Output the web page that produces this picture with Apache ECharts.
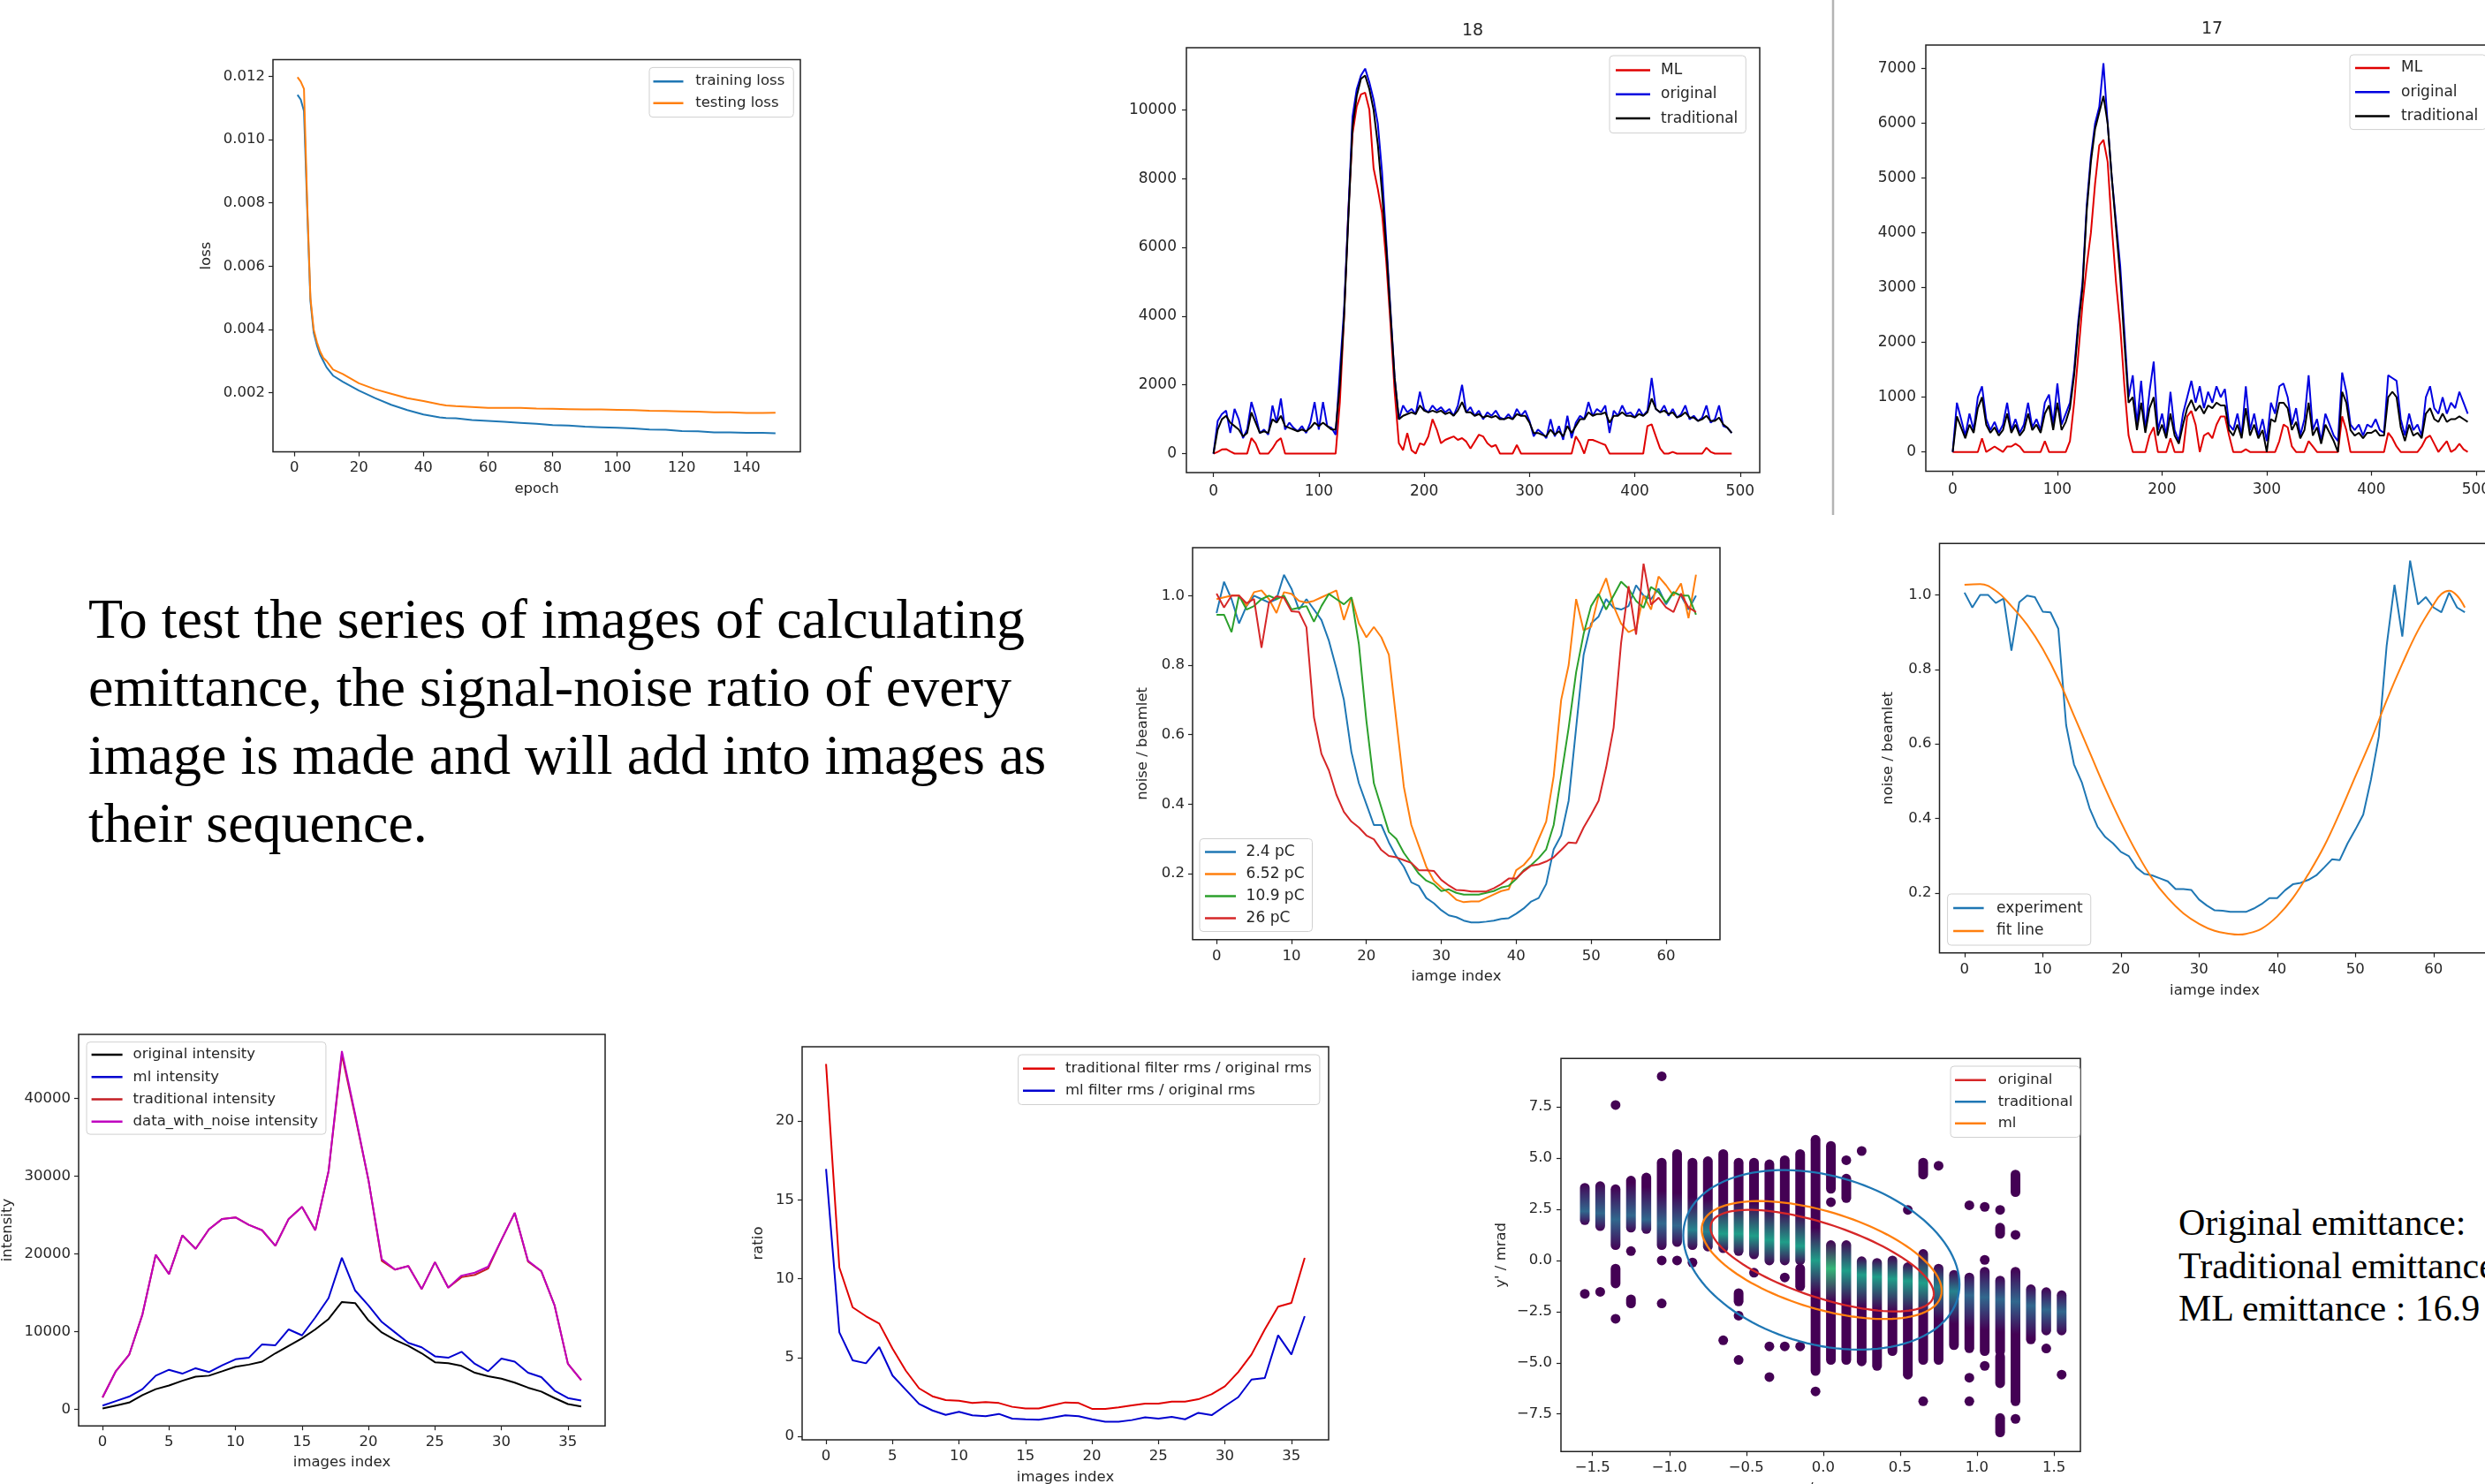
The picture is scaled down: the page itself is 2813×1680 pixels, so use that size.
<!DOCTYPE html>
<html>
<head>
<meta charset="utf-8">
<script src="https://cdn.jsdelivr.net/npm/echarts@6/dist/echarts.min.js"></script>
<style>
html,body{margin:0;padding:0;background:#fff;width:2813px;height:1680px;overflow:hidden;position:relative}
.chart{position:absolute}
.note{position:absolute;font-family:"Liberation Serif","Times New Roman",serif;color:#000;white-space:nowrap}
</style>
</head>
<body>
<div id="loss" class="chart" style="left:180px;top:40px;width:760px;height:540px"></div>
<div id="p18" class="chart" style="left:1250px;top:0px;width:780px;height:590px"></div>
<div id="p17" class="chart" style="left:2060px;top:0px;width:780px;height:590px"></div>
<div id="noise1" class="chart" style="left:1240px;top:590px;width:740px;height:540px"></div>
<div id="noise2" class="chart" style="left:2090px;top:590px;width:760px;height:550px"></div>
<div id="intens" class="chart" style="left:0px;top:1140px;width:720px;height:540px"></div>
<div id="ratio" class="chart" style="left:820px;top:1150px;width:720px;height:540px"></div>
<div id="phase" class="chart" style="left:1640px;top:1160px;width:760px;height:570px"></div>
<div class="note" style="left:100px;top:662px;font-size:64px;line-height:77px">To test the series of images of calculating<br>emittance, the signal-noise ratio of every<br>image is made and will add into images as<br>their sequence.</div>
<div class="note" style="left:2466px;top:1360px;font-size:42px;line-height:48.5px">Original emittance:<br>Traditional emittance<br>ML emittance : 16.9</div>
<script>
// ---- training curve ----
var lossEpochs = [1,2,3,4,5,6,7,8,9,10,12,15,20,25,30,35,40,45,47,50,55,60,65,70,75,80,85,90,95,100,105,110,115,120,125,130,135,140,145,149];
var trainLoss = [0.01141,0.01126,0.0109,0.0078,0.0049,0.0039,0.0035,0.0032,0.0030,0.0028,0.00254,0.00235,0.00207,0.00183,0.00162,0.00145,0.00131,0.00122,0.00120,0.00119,0.00114,0.00111,0.00108,0.00105,0.00102,0.00098,0.00096,0.00093,0.00091,0.00089,0.00087,0.00084,0.00083,0.00079,0.00078,0.00075,0.00075,0.00073,0.00073,0.00072];
var testLoss = [0.01197,0.01183,0.0116,0.0080,0.0050,0.0040,0.0036,0.0033,0.0031,0.0030,0.00273,0.00259,0.00230,0.00211,0.00197,0.00183,0.00174,0.00163,0.00160,0.00158,0.00155,0.00152,0.00152,0.00152,0.00150,0.00149,0.00148,0.00147,0.00147,0.00146,0.00145,0.00143,0.00142,0.00141,0.00140,0.00138,0.00138,0.00136,0.00136,0.00137];

// ---- beam profiles, one value every 4 pixels ----
var profileStep = 4;
var ml18 = [0,50,120,130,60,0,0,0,0,450, 300,0,0,0,150,350,450,0,0,0, 0,0,0,0,0,0,0,0,0,0,
  1500,4000,7000,9300,10100,10450,10500,10000,8300,7700, 7000,5600,3800,1800,300,100,600,100,0,300,
  250,500,1000,700,300,400,450,500,400,450, 350,150,350,550,500,300,200,250,0,0, 0,0,250,0,0,0,0,0,0,0,
  0,0,0,0,0,0,500,300,0,400, 400,350,300,250,0,0,0,0,0,0, 0,0,0,800,850,500,150,0,0,50, 0,0,0,0,0,0,0,170,50,0, 0,0,0,0];
var orig18 = [0,950,1150,1250,600,1300,1000,450,700,1500, 1100,600,700,550,1400,900,1600,700,900,750, 650,800,600,900,1500,700,1500,800,750,550,
  2400,4200,7000,9800,10600,11000,11200,10800,10300,9600, 8200,6200,4200,2200,1000,1400,1200,1300,1150,1800,
  1300,1200,1400,1250,1350,1200,1300,1100,1400,2000, 1200,1350,1100,1250,1000,1200,1100,1250,1050,1000,
  1150,1000,1300,1100,1250,950,500,700,600,450, 1000,500,800,400,1100,450,900,1100,1000,1500,
  1100,1300,1200,1400,600,1250,1100,1400,1150,1200, 1050,1300,1100,1250,2200,1300,1200,1400,1100,1300,
  1050,1150,1400,1000,1100,950,1050,1400,900,1000, 1400,800,750,600];
var trad18 = [0,700,1000,1100,900,800,700,500,600,1200, 900,600,650,600,1000,900,1100,800,750,700, 650,700,650,750,900,800,900,800,700,700,
  2000,4000,6800,9500,10400,10900,11000,10600,10000,9000, 7600,6000,4100,2200,1000,1100,1150,1200,1150,1400,
  1250,1200,1250,1200,1250,1150,1200,1100,1250,1500, 1200,1200,1100,1150,1050,1100,1050,1100,1000,1000,
  1050,1000,1150,1100,1100,900,600,600,550,500, 700,550,650,500,800,600,800,1000,1000,1200,
  1100,1150,1150,1200,900,1100,1100,1200,1100,1100, 1050,1150,1100,1200,1600,1300,1200,1250,1150,1200,
  1050,1100,1200,1050,1050,950,1000,1100,950,950, 1050,850,750,600];
var ml17 = [0,0,0,0,0,0,0,250,0,50, 100,50,0,100,100,150,100,0,0,0, 0,0,200,0,0,0,0,0,200,900,
  1800,2700,3400,4000,4900,5600,5700,5300,4100,3100, 2300,1200,300,0,0,0,0,300,450,0,
  0,0,250,0,0,0,650,750,500,0, 300,350,250,500,650,650,300,0,0,0, 50,0,0,0,0,0,0,0,200,500,
  450,100,0,0,0,200,100,0,0,0, 0,0,0,650,400,0,0,0,0,0, 0,0,0,0,350,250,100,0,0,0, 0,0,100,250,300,150,0,100,200,0, 50,150,50,0];
var orig17 = [0,900,600,300,700,400,1000,1200,600,400, 550,350,500,900,400,600,350,500,900,450, 600,400,900,1050,500,1250,500,700,900,1500,
  2400,3100,4500,5400,6000,6300,7100,6000,5000,4200, 3400,2200,1000,1400,500,1300,400,1100,1650,400,
  700,300,1100,400,200,700,1000,1300,900,1200, 800,1100,900,1200,1000,1150,500,400,700,300,
  1200,400,700,300,600,200,900,700,1200,1250, 1000,500,800,300,600,1400,400,600,200,700,
  500,300,200,1450,1100,500,400,500,300,500, 450,600,400,350,1400,1350,1300,600,300,700,
  400,500,300,1000,1200,800,700,1000,700,900, 800,1100,900,700];
var trad17 = [0,650,450,250,500,350,800,1000,500,350, 450,300,400,700,350,500,300,400,700,400, 500,350,700,850,400,900,400,550,800,1400,
  2300,3000,4400,5300,5900,6200,6500,6000,5000,4100, 3200,2000,900,1000,400,900,350,800,1000,300,
  500,250,700,300,150,500,800,950,750,850, 700,850,800,900,850,850,400,300,500,250,
  800,300,500,250,400,0,600,550,900,900, 800,400,550,250,400,900,300,450,150,500,
  350,200,0,1100,900,400,300,350,250,350, 350,400,300,300,1000,1100,1000,450,200,500,
  300,350,250,700,800,600,550,700,550,600, 600,650,600,550];

// ---- noise / beamlet against image index 0..64 ----
var charge24 = [0.95,1.04,0.99,0.92,0.97,1.0,0.99,0.98,0.99,1.06, 1.02,0.96,0.99,0.96,0.93,0.87,0.79,0.70,0.55,0.46,
  0.40,0.34,0.34,0.29,0.25,0.22,0.175,0.165,0.13,0.115, 0.095,0.08,0.075,0.065,0.06,0.06,0.062,0.065,0.07,0.072,
  0.085,0.10,0.12,0.13,0.17,0.27,0.31,0.41,0.62,0.83, 0.92,0.94,0.99,0.965,0.96,0.97,1.03,1.0,0.99,1.02, 0.975,1.01,1.0,0.96,1.0];
var charge652 = [0.99,0.995,1.0,1.0,0.97,1.01,1.015,0.99,0.95,1.01, 1.005,0.985,0.98,0.985,0.995,1.005,1.015,0.93,0.995,0.92,
  0.88,0.91,0.88,0.83,0.64,0.45,0.34,0.28,0.22,0.18, 0.16,0.145,0.125,0.118,0.12,0.12,0.13,0.14,0.15,0.155,
  0.21,0.225,0.25,0.30,0.35,0.48,0.70,0.80,0.99,0.90, 0.91,1.0,1.05,0.97,0.92,0.895,0.905,1.0,0.96,1.055, 1.03,1.0,1.035,0.935,1.06];
var charge109 = [0.945,0.945,0.895,1.0,0.96,0.97,0.99,1.0,0.99,1.0, 0.96,0.965,0.97,0.925,0.97,1.005,0.99,0.975,0.995,0.86,
  0.64,0.46,0.39,0.32,0.30,0.26,0.23,0.20,0.18,0.17, 0.15,0.155,0.145,0.14,0.14,0.14,0.145,0.15,0.16,0.165,
  0.185,0.21,0.225,0.245,0.27,0.34,0.48,0.62,0.78,0.89, 0.97,1.005,0.96,1.0,1.04,1.02,0.985,0.965,1.025,1.01, 0.98,1.01,1.0,1.0,0.945];
var charge26 = [1.006,0.966,1.0,1.0,0.978,0.99,0.85,0.98,0.998,0.994, 0.955,0.953,0.909,0.65,0.545,0.497,0.427,0.378,0.35,0.333,
  0.31,0.299,0.268,0.251,0.247,0.239,0.231,0.21,0.21,0.208, 0.182,0.166,0.153,0.152,0.149,0.149,0.149,0.158,0.17,0.186,
  0.186,0.207,0.223,0.227,0.235,0.247,0.268,0.29,0.288,0.333, 0.37,0.41,0.505,0.62,0.864,1.027,0.888,1.092,0.974,0.994, 0.966,0.953,1.006,0.966,0.953];
var fitX = [0,2,4,6,8,10,12,14,16,18,20,22,24,26,28,30,32,34,35,36,38,40,42,44,46,48,50,52,54,56,58,60,61,62,63,64];
var fitY = [1.027,1.029,1.011,0.97,0.92,0.855,0.774,0.676,0.578,0.48,0.39,0.309,0.239,0.186,0.145,0.117,0.098,0.09,0.088,0.09,0.104,0.137,0.186,0.251,0.325,0.415,0.513,0.61,0.717,0.815,0.904,0.974,1.002,1.011,0.998,0.966];

// ---- per image index 0..36 ----
var origIntensity = [115,500,880,1840,2610,3070,3690,4220,4340,4910,5490,5760,6140,7220,8180,9140,10290,11630,13820,13670,11440,9900,8940,8180,7220,6070,5950,5600,4720,4260,3950,3450,2800,2300,1460,690,380];
var mlIntensity = [500,1075,1650,2610,4340,5100,4600,5300,4800,5680,6450,6640,8370,8250,10290,9520,11820,14320,19500,15280,13360,11250,9900,8560,7985,6830,6640,7410,5870,4910,6530,6140,4720,4150,2420,1460,1150];
var tradIntensity = [1536,4914,7025,12208,19886,17390,22380,20650,23150,24490,24680,23720,23030,21040,24490,26030,23030,30630,45600,37700,29480,19100,17970,18430,15470,18930,15660,17000,17300,18100,21800,25260,19000,17770,13360,5874,3762];
var noisyIntensity = [1536,4914,7025,12208,19886,17390,22380,20650,23150,24490,24680,23720,23030,21040,24490,26030,23030,30630,46070,37930,29480,19310,17970,18430,15470,18930,15660,17200,17580,18350,21800,25260,19120,17770,13360,5874,3762];
var tradRatio = [23.62,10.7,8.18,7.62,7.15,5.56,4.16,3.04,2.54,2.30,2.26,2.11,2.17,2.11,1.87,1.77,1.77,1.96,2.15,2.11,1.74,1.74,1.83,1.96,2.07,2.07,2.20,2.20,2.35,2.67,3.17,4.07,5.19,6.78,8.22,8.46,11.32];
var mlRatio = [16.96,6.59,4.82,4.63,5.66,3.85,2.95,2.05,1.64,1.36,1.55,1.33,1.27,1.42,1.12,1.08,1.05,1.18,1.33,1.27,1.08,0.93,0.93,1.03,1.21,1.12,1.23,1.08,1.49,1.34,1.92,2.48,3.60,3.70,6.41,5.19,7.62];

// ---- phase space: columns [x, yLow, yHigh, yDensest, density], single dots [x, y] ----
var phaseBands = [
  [-1.55,1.97,3.55,2.4,0.3],[-1.45,1.68,3.63,2.3,0.3],[-1.35,0.75,3.48,2.0,0.3],[-1.35,-1.12,-0.4,-0.8,0],
  [-1.25,1.6,3.9,2.2,0.3],[-1.25,-2.1,-1.9,-2.0,0],[-1.15,1.54,4.05,2.0,0.3],[-1.05,0.75,4.78,1.8,0.35],
  [-0.95,0.9,5.2,1.7,0.35],[-0.85,0.75,4.78,1.5,0.4],[-0.75,0.68,4.85,1.4,0.45],[-0.65,0.6,5.2,1.3,0.5],
  [-0.55,0.46,4.78,1.3,0.5],[-0.55,-2.0,-1.6,-1.8,0],[-0.45,0.3,4.78,1.2,0.55],[-0.35,0.0,4.7,1.0,0.55],
  [-0.25,0.0,4.9,0.9,0.6],[-0.15,0.0,5.2,0.7,0.55],[-0.15,-1.27,-0.4,-0.8,0],[-0.05,-5.4,5.9,0.0,0.6],
  [0.05,3.5,5.6,4.5,0],[0.05,-4.86,0.75,-0.4,0.65],[0.15,3.05,4.0,3.5,0],[0.15,-4.86,0.75,-0.5,0.6],
  [0.25,-4.93,-0.04,-0.7,0.55],[0.35,-5.15,-0.12,-0.8,0.55],[0.45,-4.43,0.0,-0.9,0.55],[0.55,-5.58,-0.33,-1.0,0.5],
  [0.65,4.2,4.78,4.5,0],[0.65,-4.86,0.32,-1.1,0.5],[0.75,-4.86,-0.4,-1.3,0.45],[0.85,-4.14,-0.7,-1.5,0.4],
  [0.95,-4.29,-0.83,-1.7,0.35],[1.05,-4.43,-0.55,-1.8,0.35],[1.15,1.3,1.6,1.45,0],[1.15,-4.43,-0.98,-1.9,0.3],
  [1.15,-6.0,-4.7,-5.3,0],[1.15,-8.4,-7.7,-8.0,0],[1.25,3.34,4.2,3.8,0],[1.25,-6.88,-0.55,-2.0,0.3],
  [1.35,-3.86,-1.41,-2.2,0.3],[1.45,-3.42,-1.55,-2.4,0.3],[1.55,-3.42,-1.7,-2.5,0.3]
];
var phaseDots = [
  [-1.55,-1.63],[-1.45,-1.53],[-1.35,7.6],[-1.35,-2.85],[-1.25,0.46],[-1.05,0.0],[-1.05,-2.1],[-1.05,9.0],
  [-0.95,0.0],[-0.85,-0.1],[-0.65,-3.9],[-0.55,-2.7],[-0.55,-4.86],[-0.45,-0.6],[-0.35,-4.2],[-0.35,-5.7],
  [-0.25,-0.83],[-0.25,-4.2],[-0.15,-4.2],[-0.05,-6.4],[0.05,2.85],[0.15,4.9],[0.25,5.35],[0.55,2.47],
  [0.65,-6.88],[0.75,4.63],[0.95,2.7],[0.95,-5.73],[0.95,-6.88],[1.05,2.62],[1.05,0.03],[1.05,-5.15],
  [1.15,2.47],[1.25,1.25],[1.25,-7.74],[1.45,-4.3],[1.55,-5.58]
];
// ellipse: [centre x, centre y, x half-width, y at x extreme, y spread]
var ellipseOriginal = [-0.007,-0.01,0.726,-1.62,1.88];
var ellipseTraditional = [-0.012,0.03,0.898,-1.2,4.22];
var ellipseMl = [-0.01,0.02,0.78,-1.5,2.46];

var FONT = 'DejaVu Sans';
var INK = '#262626';

function valueAxis(o) {
  return {
    type: 'value', min: o.min, max: o.max,
    axisLine: {show: false, onZero: false},
    axisTick: {show: true, length: 5, customValues: o.ticks, lineStyle: {color: '#222', width: 1.2}},
    axisLabel: {show: true, customValues: o.ticks, color: INK, fontSize: o.fs || 16.5, fontFamily: FONT, margin: o.margin || 9,
      formatter: o.fmt || function (v) { return String(v); }},
    splitLine: {show: false},
    name: o.name || '', nameLocation: 'middle', nameGap: o.gap || 30, nameRotate: o.rot || 0,
    nameMoveOverlap: false,
    nameTextStyle: {color: INK, fontSize: o.fs || 16.5, fontFamily: FONT}
  };
}
function frame(left, top, width, height) {
  return {left: left, top: top, width: width, height: height, show: true, borderColor: '#222', borderWidth: 1.5,
    backgroundColor: 'transparent', containLabel: false, outerBoundsMode: 'none'};
}
function legendBox(o) {
  var lh = o.fs + 2;
  return {
    orient: 'vertical', left: o.left, top: o.top, data: o.names, icon: 'rect',
    itemWidth: o.iw, itemHeight: 2.5, itemGap: o.row - lh, padding: o.pad,
    backgroundColor: 'rgba(255,255,255,0.85)', borderColor: '#d0d0d0', borderWidth: 1, borderRadius: 4,
    selectedMode: false,
    textStyle: {fontFamily: FONT, fontSize: o.fs, color: INK, lineHeight: lh, padding: [0, 0, 0, o.tgap - 5]}
  };
}
function line(name, data, color, extra) {
  var s = {type: 'line', name: name, data: data, symbol: 'none', showSymbol: false, animation: false,
    lineStyle: {width: 2, color: color}, itemStyle: {color: color}};
  for (var k in extra || {}) s[k] = extra[k];
  return s;
}
function pairs(xs, ys) { return ys.map(function (y, i) { return [xs[i], y]; }); }
function byIndex(ys, step) { return ys.map(function (y, i) { return [i * (step || 1), y]; }); }
function fixed(n) { return function (v) { return v.toFixed(n); }; }
function signed(n) { return function (v) { return (v < 0 ? '\u2212' : '') + Math.abs(v).toFixed(n); }; }
function titleText(x, y, text) {
  return {type: 'text', x: x, y: y, style: {text: text, fill: INK, font: '19px "DejaVu Sans"', align: 'center', verticalAlign: 'middle', textAlign: 'center', textVerticalAlign: 'middle'}};
}

function draw(id, option) {
  var c = echarts.init(document.getElementById(id), null, {renderer: 'canvas'});
  option.animation = false;
  c.setOption(option);
}

draw('loss', {
  grid: frame(129, 27.6, 597, 444),
  xAxis: valueAxis({min: -6.6, max: 156.7, ticks: [0,20,40,60,80,100,120,140], name: 'epoch', gap: 34, margin: 10}),
  yAxis: valueAxis({min: 0.00013, max: 0.01252, ticks: [0.002,0.004,0.006,0.008,0.010,0.012], fmt: fixed(3), name: 'loss', gap: 67, rot: 90}),
  legend: legendBox({left: 555, top: 36.4, names: ['training loss','testing loss'], fs: 16.5, iw: 34, tgap: 13.7, row: 24.7, pad: [6.5,10,6.5,4.5]}),
  series: [
    line('training loss', pairs(lossEpochs, trainLoss), '#1f77b4'),
    line('testing loss', pairs(lossEpochs, testLoss), '#ff7f0e')
  ]
});

var profileTicksX = [0,100,200,300,400,500];
draw('p18', {
  grid: frame(93, 54, 649, 481),
  graphic: [titleText(417, 34.6, '18')],
  xAxis: valueAxis({min: -25.7, max: 518.6, ticks: profileTicksX, fs: 17, margin: 13}),
  yAxis: valueAxis({min: -552, max: 11808, ticks: [0,2000,4000,6000,8000,10000], fs: 17, margin: 11}),
  legend: legendBox({left: 572, top: 63, names: ['ML','original','traditional'], fs: 17, iw: 39, tgap: 12, row: 27.3, pad: [7,9,7,7]}),
  series: [
    line('ML', byIndex(ml18, profileStep), '#e00000'),
    line('original', byIndex(orig18, profileStep), '#0000e0'),
    line('traditional', byIndex(trad18, profileStep), '#000000')
  ]
});

draw('p17', {
  grid: frame(120, 51, 645, 482.5),
  graphic: [
    {type: 'line', shape: {x1: 15, y1: 0, x2: 15, y2: 583}, style: {stroke: '#b4b4b4', lineWidth: 2.5}},
    titleText(444, 33, '17')
  ],
  xAxis: valueAxis({min: -25.7, max: 518.6, ticks: profileTicksX, fs: 17, margin: 13}),
  yAxis: valueAxis({min: -352, max: 7431, ticks: [0,1000,2000,3000,4000,5000,6000,7000], fs: 17, margin: 11}),
  legend: legendBox({left: 600, top: 62, names: ['ML','original','traditional'], fs: 17, iw: 39, tgap: 13, row: 27.3, pad: [5.5,9,5.5,6]}),
  series: [
    line('ML', byIndex(ml17, profileStep), '#e00000'),
    line('original', byIndex(orig17, profileStep), '#0000e0'),
    line('traditional', byIndex(trad17, profileStep), '#000000')
  ]
});

var noiseTicksX = [0,10,20,30,40,50,60];
var noiseTicksY = [0.2,0.4,0.6,0.8,1.0];
draw('noise1', {
  grid: frame(110, 30, 597, 443.8),
  xAxis: valueAxis({min: -3.2, max: 67.2, ticks: noiseTicksX, name: 'iamge index', gap: 33, margin: 10.5}),
  yAxis: valueAxis({min: 0.0101, max: 1.138, ticks: noiseTicksY, fmt: fixed(1), name: 'noise / beamlet', gap: 48, rot: 90}),
  legend: legendBox({left: 118, top: 359.5, names: ['2.4 pC','6.52 pC','10.9 pC','26 pC'], fs: 17, iw: 35, tgap: 11.6, row: 25, pad: [5.5,9,5.5,6]}),
  series: [
    line('2.4 pC', byIndex(charge24), '#1f77b4'),
    line('6.52 pC', byIndex(charge652), '#ff7f0e'),
    line('10.9 pC', byIndex(charge109), '#2ca02c'),
    line('26 pC', byIndex(charge26), '#d62728')
  ]
});

draw('noise2', {
  grid: frame(105.5, 25.2, 623, 463.5),
  xAxis: valueAxis({min: -3.2, max: 67.2, ticks: noiseTicksX, name: 'iamge index', gap: 34.5, margin: 10.5}),
  yAxis: valueAxis({min: 0.039, max: 1.138, ticks: noiseTicksY, fmt: fixed(1), name: 'noise / beamlet', gap: 49, rot: 90}),
  legend: legendBox({left: 114.6, top: 422, names: ['experiment','fit line'], fs: 17, iw: 34.5, tgap: 14.5, row: 25.8, pad: [6.6,9,6.6,6.5]}),
  series: [
    line('experiment', byIndex(charge26), '#1f77b4'),
    line('fit line', pairs(fitX, fitY), '#ff7f0e', {smooth: 0.4})
  ]
});

var imageTicksX = [0,5,10,15,20,25,30,35];
draw('intens', {
  grid: frame(89, 31, 596, 443.2),
  xAxis: valueAxis({min: -1.8, max: 37.8, ticks: imageTicksX, name: 'images index', gap: 33.5, margin: 10}),
  yAxis: valueAxis({min: -2112, max: 48209, ticks: [0,10000,20000,30000,40000], name: 'intensity', gap: 72, rot: 90}),
  legend: legendBox({left: 98, top: 39.7, names: ['original intensity','ml intensity','traditional intensity','data_with_noise intensity'], fs: 16.5, iw: 35, tgap: 12, row: 25.3, pad: [5,9,5,5.6]}),
  series: [
    line('original intensity', byIndex(origIntensity), '#000000'),
    line('ml intensity', byIndex(mlIntensity), '#0000d0'),
    line('traditional intensity', byIndex(tradIntensity), '#c41e24'),
    line('data_with_noise intensity', byIndex(noisyIntensity), '#bf00bf')
  ]
});

draw('ratio', {
  grid: frame(88, 35, 596, 445),
  xAxis: valueAxis({min: -1.8, max: 37.8, ticks: imageTicksX, name: 'images index', gap: 34, margin: 10}),
  yAxis: valueAxis({min: -0.224, max: 24.71, ticks: [0,5,10,15,20], name: 'ratio', gap: 41, rot: 90}),
  legend: legendBox({left: 332.6, top: 44, names: ['traditional filter rms / original rms','ml filter rms / original rms'], fs: 16.5, iw: 36, tgap: 12, row: 25, pad: [6.5,9,6.5,5.4]}),
  series: [
    line('traditional filter rms / original rms', byIndex(tradRatio), '#e00000'),
    line('ml filter rms / original rms', byIndex(mlRatio), '#0000d0')
  ]
});

// viridis shades for the density colouring of the columns
var viridisShades = ['#440154','#482878','#3e4989','#31688e','#26828e','#1f9e89','#35b779','#6ece58','#b5de2b','#fde725'];
var DARK = viridisShades[0];
function viridis(t) { return viridisShades[Math.round(t * (viridisShades.length - 1))]; }
var DOT = 11;

function renderBand(params, api) {
  var x = api.value(0), y0 = api.value(1), y1 = api.value(2), yc = api.value(3), t = api.value(4);
  var r = DOT / 2;
  var top = api.coord([x, y1]), bot = api.coord([x, y0]);
  var yTop = top[1] - r, h = bot[1] - top[1] + 2 * r;
  function off(v) { return Math.min(1, Math.max(0, (api.coord([x, v])[1] - yTop) / h)); }
  var stops = [{offset: 0, color: DARK}];
  var o1 = off(yc + 1.6), oc = off(yc), o2 = off(yc - 1.6);
  if (o1 > 0) stops.push({offset: o1, color: DARK});
  stops.push({offset: oc, color: viridis(t)});
  if (o2 < 1) stops.push({offset: o2, color: DARK});
  stops.push({offset: 1, color: DARK});
  return {type: 'rect', shape: {x: top[0] - r, y: yTop, width: DOT, height: h, r: r},
    style: {fill: new echarts.graphic.LinearGradient(0, 0, 0, 1, stops)}};
}
function renderEllipse(params, api) {
  var cx = api.value(0), cy = api.value(1), a = api.value(2), b = api.value(3), c = api.value(4);
  var pts = [];
  for (var k = 0; k <= 120; k++) {
    var t = k / 120 * Math.PI * 2;
    pts.push(api.coord([cx + a * Math.cos(t), cy + b * Math.cos(t) + c * Math.sin(t)]));
  }
  return {type: 'polyline', shape: {points: pts}, style: {stroke: api.visual('color'), lineWidth: 2.3, fill: null}};
}
function ellipseSeries(name, params, color) {
  return {type: 'custom', name: name, data: [params], renderItem: renderEllipse, itemStyle: {color: color}, z: 5, animation: false};
}

draw('phase', {
  grid: frame(127, 38.3, 588, 445),
  xAxis: valueAxis({min: -1.705, max: 1.672, ticks: [-1.5,-1.0,-0.5,0,0.5,1.0,1.5], fmt: signed(1), name: 'y / mm', gap: 34, margin: 10}),
  yAxis: valueAxis({min: -9.34, max: 9.87, ticks: [-7.5,-5,-2.5,0,2.5,5,7.5], fmt: signed(1), name: "y' / mrad", gap: 59, rot: 90, margin: 10}),
  legend: legendBox({left: 568, top: 47, names: ['original','traditional','ml'], fs: 16.5, iw: 35, tgap: 13.7, row: 24.5, pad: [6.5,8,6.5,5]}),
  series: [
    {type: 'custom', name: 'beamlets', data: phaseBands, renderItem: renderBand, z: 2, animation: false},
    {type: 'scatter', name: 'beamlet points', data: phaseDots, symbolSize: DOT, itemStyle: {color: DARK, opacity: 1}, z: 2, animation: false},
    ellipseSeries('original', ellipseOriginal, '#d62728'),
    ellipseSeries('traditional', ellipseTraditional, '#1f77b4'),
    ellipseSeries('ml', ellipseMl, '#ff7f0e')
  ]
});
</script>
</body>
</html>
